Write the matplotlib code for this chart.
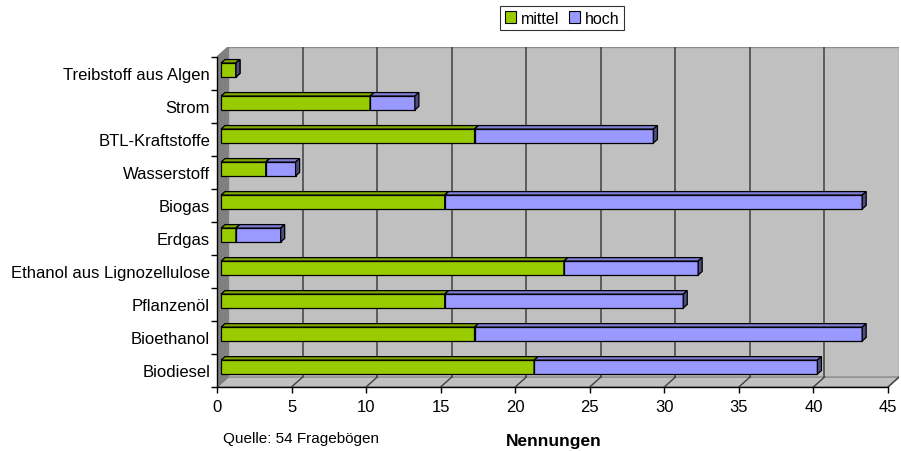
import matplotlib.pyplot as plt
from matplotlib.patches import Polygon, Patch

plt.rcParams['font.family'] = ['Liberation Sans', 'DejaVu Sans']

# data (bottom to top)
categories = ['Biodiesel', 'Bioethanol', 'Pflanzenöl', 'Ethanol aus Lignozellulose',
              'Erdgas', 'Biogas', 'Wasserstoff', 'BTL-Kraftstoffe', 'Strom',
              'Treibstoff aus Algen']
mittel = [21, 17, 15, 23, 1, 15, 3, 17, 10, 1]
hoch = [19, 26, 16, 9, 3, 28, 2, 12, 3, 0]
x_ticks = [0, 5, 10, 15, 20, 25, 30, 35, 40, 45]

green = '#99CC00'
green_top = '#7FA800'
green_side = '#5E7D00'
blue = '#9999FF'
blue_top = '#7F7FD6'
blue_side = '#4D4D80'

# 3D geometry in data units
xmax = 45
dx, dy = 0.74, 0.30          # depth of the walls
bfx, bfy = 0.27, 0.105       # bar front offset
bdx, bdy = 0.27, 0.105       # bar depth
bh = 0.42                    # bar height

fig = plt.figure(figsize=(9.01, 4.52), dpi=100)
ax = fig.add_axes([217 / 901, 64 / 452, 682 / 901, 340 / 452])
ax.set_xlim(0, xmax + dx)
ax.set_ylim(-0.5, len(categories) - 0.5 + dy)
ax.patch.set_visible(False)

y0 = -0.5
y1 = len(categories) - 0.5

# back wall
ax.add_patch(Polygon([(dx, y0 + dy), (xmax + dx, y0 + dy), (xmax + dx, y1 + dy), (dx, y1 + dy)],
                     closed=True, facecolor='#C0C0C0', edgecolor='#8C8C8C', lw=1, zorder=0))
# floor
ax.add_patch(Polygon([(0, y0), (xmax, y0), (xmax + dx, y0 + dy), (dx, y0 + dy)],
                     closed=True, facecolor='#C0C0C0', edgecolor='#8C8C8C', lw=1, zorder=0))
# left wall
ax.add_patch(Polygon([(0, y0), (dx, y0 + dy), (dx, y1 + dy), (0, y1)],
                     closed=True, facecolor='#808080', edgecolor='#808080', lw=1, zorder=0))

# gridlines on wall and floor
for t in x_ticks[1:-1]:
    ax.plot([t + dx, t + dx], [y0 + dy, y1 + dy], color='#404040', lw=1.1, zorder=1)
for t in x_ticks[1:]:
    ax.plot([t, t + dx], [y0, y0 + dy], color='#404040', lw=1.0, zorder=1)

# bars
for i, (m, h) in enumerate(zip(mittel, hoch)):
    yb = i - bh / 2 + bfy
    for left, w, cf, ct, cs in [(0, m, green, green_top, green_side),
                                (m, h, blue, blue_top, blue_side)]:
        xl = left + bfx
        ax.barh(yb + bh / 2, w, left=xl, height=bh, color=cf,
                edgecolor='black', lw=0.9, zorder=3)
        ax.add_patch(Polygon([(xl, yb + bh), (xl + w, yb + bh),
                              (xl + w + bdx, yb + bh + bdy), (xl + bdx, yb + bh + bdy)],
                             closed=True, facecolor=ct, edgecolor='black', lw=0.9, zorder=3))
        ax.add_patch(Polygon([(xl + w, yb), (xl + w + bdx, yb + bdy),
                              (xl + w + bdx, yb + bh + bdy), (xl + w, yb + bh)],
                             closed=True, facecolor=cs, edgecolor='black', lw=0.9, zorder=3))

# axes lines
for s in ['top', 'right']:
    ax.spines[s].set_visible(False)
ax.spines['bottom'].set_bounds(0, xmax)
ax.spines['left'].set_bounds(y0, y1)
ax.spines['bottom'].set_linewidth(1.0)
ax.spines['left'].set_linewidth(1.0)
ax.spines['bottom'].set_zorder(4)

ax.set_xticks(x_ticks)
ax.set_xticklabels([str(t) for t in x_ticks], fontsize=12)
ax.tick_params(axis='x', length=4, width=1, pad=4.5)

ax.set_yticks(range(len(categories)))
ax.set_yticklabels(categories, fontsize=12)
ax.set_yticks([k - 0.5 for k in range(len(categories) + 1)], minor=True)
ax.tick_params(axis='y', which='major', length=0, pad=5)
ax.tick_params(axis='y', which='minor', length=4.5, width=1)

ax.set_xlabel('Nennungen', fontsize=12.5, fontweight='bold')
ax.xaxis.set_label_coords((554 - 217) / 682, -(442 - 388) / 340)
ax.xaxis.label.set_va('center')
fig.text(223 / 901, 1 - 439 / 452, 'Quelle: 54 Fragebögen', fontsize=11, va='center', ha='left')

handles = [Patch(facecolor=green, edgecolor='black', lw=0.8, label='mittel'),
           Patch(facecolor=blue, edgecolor='black', lw=0.8, label='hoch')]
leg = fig.legend(handles=handles, loc='center', bbox_to_anchor=(562 / 901, 1 - 19 / 452),
                 ncol=2, fontsize=11.5, frameon=True, fancybox=False, handlelength=0.7,
                 handleheight=0.7, handletextpad=0.3, columnspacing=0.6, borderpad=0.3,
                 borderaxespad=0)
leg.get_frame().set_edgecolor('black')
leg.get_frame().set_linewidth(0.8)

fig.savefig('out.png', dpi=100, facecolor='white')
